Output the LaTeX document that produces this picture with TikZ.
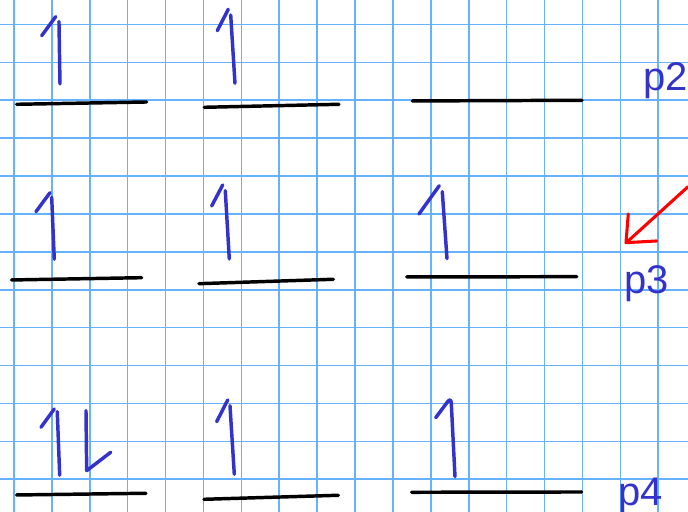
\documentclass[tikz,border=0pt]{standalone}
\usepackage{fontspec}
\setmainfont{Liberation Sans}
\usepackage{xcolor}
\usetikzlibrary{arrows.meta,positioning,calc}

\definecolor{gridblue}{RGB}{102,178,255}
\definecolor{pen}{RGB}{51,51,204}

\begin{document}
\begin{tikzpicture}[
  gridline/.style={draw=gridblue,line width=1.2pt},
  level/.style={draw=black,line width=2.6pt,line cap=round},
  spin/.style={draw=pen,line width=2.6pt,line cap=round,line join=round},
  pointer/.style={draw=red,line width=2.3pt,line cap=round,line join=round},
  shell/.style={text=pen,inner sep=0pt,anchor=base west,font=\fontsize{30}{36}\selectfont}
]
% Paper with a one-unit square grid; the frame fixes the margins.
\fill[white] (-0.369,-0.863) rectangle (17.784,12.646);
\useasboundingbox (-0.369,-0.863) rectangle (17.784,12.646);
\draw[gridline,step=1] (-0.369,-0.863) grid (17.784,12.646);

% Row p2: three levels, first two singly filled.
\draw[level] (0.071,9.894) -- (3.501,9.955);
\draw[level] (5.021,9.815) -- (8.575,9.894);
\draw[level] (10.509,9.982) -- (14.987,10.0);
\draw[spin] (1.100,12.206) -- (0.731,11.704);
\draw[spin] (1.187,12.074) -- (1.214,10.430);
\draw[spin] (5.654,12.401) -- (5.364,11.836);
\draw[spin] (5.718,12.251) -- (5.831,10.449);

% Row p3: three levels, each with one electron.
\draw[level] (-0.061,5.259) -- (3.369,5.319);
\draw[level] (4.881,5.161) -- (8.425,5.277);
\draw[level] (10.362,5.338) -- (14.847,5.346);
\draw[spin] (0.950,7.562) -- (0.580,7.061);
\draw[spin] (0.995,7.441) -- (1.063,5.805);
\draw[spin] (5.507,7.765) -- (5.216,7.211);
\draw[spin] (5.575,7.615) -- (5.681,5.813);
\draw[spin] (11.222,7.747) -- (10.686,7.000);
\draw[spin] (11.301,7.588) -- (11.425,5.821);

% Row p4: one pair, then two single electrons.
\draw[level] (0.071,-0.414) -- (3.483,-0.369);
\draw[level] (5.013,-0.528) -- (8.557,-0.422);
\draw[level] (10.493,-0.343) -- (14.979,-0.335);
\draw[spin] (1.063,1.855) -- (0.712,1.372);
\draw[spin] (1.142,1.784) -- (1.206,0.106);
\draw[spin] (1.900,1.810) -- (1.918,0.227) -- (2.551,0.712);
\draw[spin] (5.639,2.092) -- (5.348,1.520);
\draw[spin] (5.699,1.942) -- (5.813,0.132);
\draw[spin,rounded corners=4pt] (11.127,1.625) -- (11.53,2.164) -- (11.636,0.069);

% Shell labels on the right.
\node[shell] (p2) at (16.59,10.27) {p2};
\node[shell] (p3) at (16.09,4.89) {p3};
\node[shell] (p4) at (15.95,-0.68) {p4};

% Red hand-drawn pointer towards p3.
\coordinate (tail) at (17.784,7.720);
\coordinate (tip) at (16.166,6.253);
\draw[pointer] (tail) -- (tip);
\draw[pointer] (16.208,7.000) -- (16.148,6.243) -- (16.958,6.288);

\end{tikzpicture}
\end{document}
